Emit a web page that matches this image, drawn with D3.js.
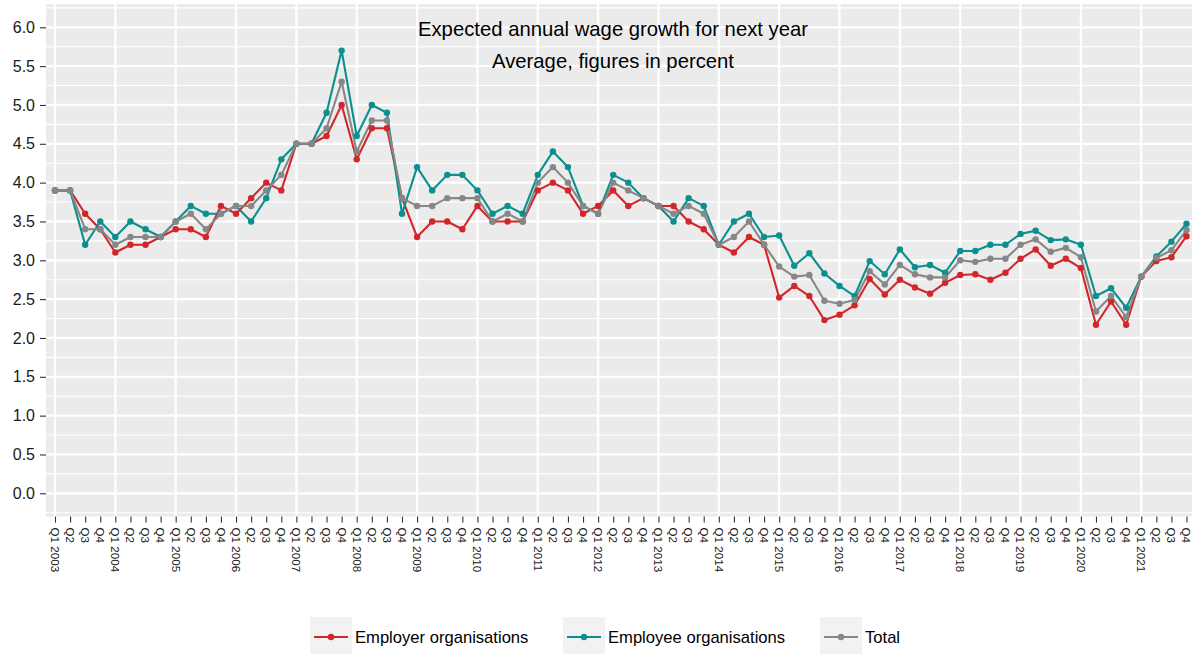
<!DOCTYPE html>
<html><head><meta charset="utf-8">
<script src="https://cdn.jsdelivr.net/npm/d3@7"></script>
<style>
html,body{margin:0;padding:0;background:#fff;}
svg{display:block;font-family:"Liberation Sans",Arial,sans-serif;}
</style></head>
<body><svg id="c" width="1192" height="654"></svg>
<script>
const years = d3.range(2003, 2022);
const quarters = ["Q1","Q2","Q3","Q4"];
const categories = years.flatMap(y => quarters.map(q => q + " " + y));
const tickLabels = categories.map(c => c.startsWith("Q1") ? c : c.slice(0, 2));
const yTicks = [0,0.5,1,1.5,2,2.5,3,3.5,4,4.5,5,5.5,6];

const employer = [3.9,3.9,3.6,3.4,3.1,3.2,3.2,3.3,3.4,3.4,3.3,3.7,3.6,3.8,4.0,3.9,4.5,4.5,4.6,5.0,4.3,4.7,4.7,3.8,3.3,3.5,3.5,3.4,3.7,3.5,3.5,3.5,3.9,4.0,3.9,3.6,3.7,3.9,3.7,3.8,3.7,3.7,3.5,3.4,3.2,3.1,3.3,3.2,2.52,2.67,2.54,2.23,2.30,2.42,2.76,2.56,2.75,2.65,2.57,2.71,2.81,2.82,2.75,2.84,3.02,3.14,2.93,3.02,2.90,2.17,2.47,2.17,2.79,2.99,3.04,3.31];
const employee = [3.9,3.9,3.2,3.5,3.3,3.5,3.4,3.3,3.5,3.7,3.6,3.6,3.7,3.5,3.8,4.3,4.5,4.5,4.9,5.7,4.6,5.0,4.9,3.6,4.2,3.9,4.1,4.1,3.9,3.6,3.7,3.6,4.1,4.4,4.2,3.7,3.6,4.1,4.0,3.8,3.7,3.5,3.8,3.7,3.2,3.5,3.6,3.3,3.32,2.93,3.09,2.83,2.67,2.54,2.99,2.82,3.14,2.91,2.94,2.84,3.12,3.12,3.20,3.20,3.34,3.38,3.26,3.27,3.20,2.54,2.64,2.39,2.79,3.05,3.24,3.47];
const total = [3.9,3.9,3.4,3.4,3.2,3.3,3.3,3.3,3.5,3.6,3.4,3.6,3.7,3.7,3.9,4.1,4.5,4.5,4.7,5.3,4.4,4.8,4.8,3.8,3.7,3.7,3.8,3.8,3.8,3.5,3.6,3.5,4.0,4.2,4.0,3.7,3.6,4.0,3.9,3.8,3.7,3.6,3.7,3.6,3.2,3.3,3.5,3.2,2.92,2.79,2.81,2.48,2.44,2.49,2.86,2.69,2.94,2.82,2.78,2.78,3.00,2.98,3.02,3.02,3.20,3.27,3.11,3.16,3.04,2.34,2.54,2.27,2.79,3.03,3.13,3.39];

const seriesNames = ["Employer organisations","Employee organisations","Total"];
const seriesValues = [employer, employee, total];
const colors = ["#d3262b","#0b8f8f","#878787"];

const svg = d3.select("#c");
const pL = 46, pT = 4, pB = 516.6;
const x = d3.scalePoint().domain(categories).range([55, 1186.5]);
const step = x.step();
const pR = x(categories[categories.length-1]) + 0.6*step;
const y = d3.scaleLinear().domain([-0.3, 6.3]).range([pB, pT]);

// panel
svg.append("rect").attr("x", pL).attr("y", pT).attr("width", pR - pL).attr("height", pB - pT).attr("fill", "#ebebeb");
const g = svg.append("g");
const minor = d3.range(-0.25, 6.3, 0.5);
g.selectAll(".ymin").data(minor).join("line")
  .attr("x1", pL).attr("x2", pR).attr("y1", d => y(d)).attr("y2", d => y(d))
  .attr("stroke", "#fff").attr("stroke-width", 1.1);
g.selectAll(".ymaj").data(yTicks).join("line")
  .attr("x1", pL).attr("x2", pR).attr("y1", d => y(d)).attr("y2", d => y(d))
  .attr("stroke", "#fff").attr("stroke-width", 2.2);
g.selectAll(".xmaj").data(categories.filter(c => c.startsWith("Q1"))).join("line")
  .attr("x1", d => x(d)).attr("x2", d => x(d)).attr("y1", pT).attr("y2", pB)
  .attr("stroke", "#fff").attr("stroke-width", 2.2);

// title
svg.append("text").attr("x", 613).attr("y", 35.5).attr("text-anchor", "middle")
  .attr("font-size", 20.3).attr("fill", "#000").text("Expected annual wage growth for next year");
svg.append("text").attr("x", 613).attr("y", 68).attr("text-anchor", "middle")
  .attr("font-size", 20.3).attr("fill", "#000").text("Average, figures in percent");

// lines & points
const line = d3.line().x((d, i) => x(categories[i])).y(d => y(d));
seriesValues.forEach((vals, k) => {
  svg.append("path").datum(vals).attr("d", line).attr("fill", "none")
    .attr("stroke", colors[k]).attr("stroke-width", 2.1).attr("stroke-linejoin", "round");
});
seriesValues.forEach((vals, k) => {
  svg.append("g").selectAll("circle").data(vals).join("circle")
    .attr("cx", (d, i) => x(categories[i])).attr("cy", d => y(d)).attr("r", 3.2)
    .attr("fill", colors[k]);
});

// y axis
const yAxis = d3.axisLeft(y).tickValues(yTicks).tickFormat(d3.format(".1f")).tickSize(6).tickPadding(5);
const ya = svg.append("g").attr("transform", `translate(${pL},0)`).call(yAxis);
ya.select(".domain").remove();
ya.selectAll(".tick line").attr("stroke", "#333").attr("stroke-width", 1.1);
ya.selectAll(".tick text").attr("font-size", 16).attr("fill", "#1a1a1a")
  .attr("font-family", "Liberation Sans, Arial, sans-serif");

// x axis
const xAxis = d3.axisBottom(x).tickFormat((d, i) => tickLabels[i]).tickSize(6).tickPadding(2);
const xa = svg.append("g").attr("transform", `translate(0,${pB})`).call(xAxis);
xa.select(".domain").remove();
xa.selectAll(".tick line").attr("stroke", "#333").attr("stroke-width", 1.1);
xa.selectAll(".tick text").attr("font-size", 11.6).attr("fill", "#1a1a1a")
  .attr("font-family", "Liberation Sans, Arial, sans-serif")
  .attr("transform", "rotate(90)").attr("text-anchor", "start")
  .attr("x", 11).attr("y", 0).attr("dy", "0.4em");

// legend
const legX = [310, 563, 820];
const lg = svg.append("g");
seriesNames.forEach((n, k) => {
  const gg = lg.append("g").attr("transform", `translate(${legX[k]},617)`);
  gg.append("rect").attr("width", 42).attr("height", 40).attr("fill", "#f2f2f2");
  gg.append("line").attr("x1", 4).attr("x2", 38).attr("y1", 20).attr("y2", 20)
    .attr("stroke", colors[k]).attr("stroke-width", 2.1);
  gg.append("circle").attr("cx", 21).attr("cy", 20).attr("r", 3.2).attr("fill", colors[k]);
  gg.append("text").attr("x", 45).attr("y", 20).attr("dy", "0.35em")
    .attr("font-size", 16.6).attr("fill", "#000").text(n);
});
</script></body></html>
